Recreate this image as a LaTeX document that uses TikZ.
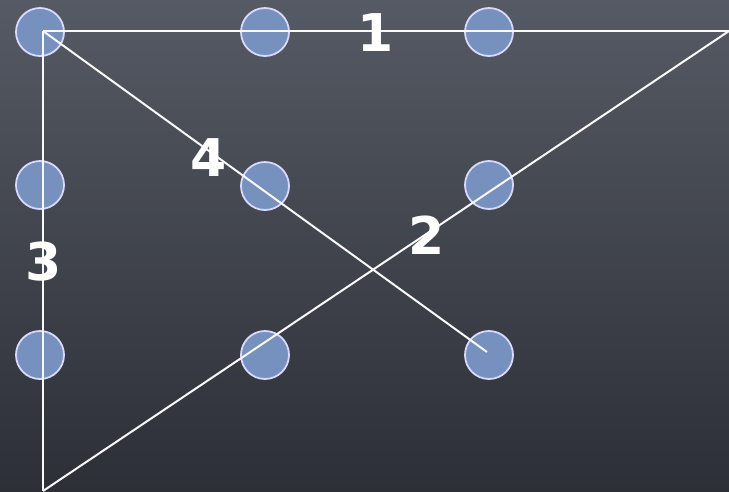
\documentclass[tikz,border=0pt]{standalone}
\usepackage{fontspec}
\newfontfamily\chalk{DejaVu Sans}
\begin{document}
\begin{tikzpicture}[x=1pt,y=-1pt,
  dot/.style={circle,minimum size=48pt,inner sep=0pt,fill={rgb,255:red,118;green,145;blue,190},draw=white!85!blue,line width=1.8pt},
  chalkline/.style={draw=white!95!gray,line width=2pt},
  num/.style={text=white,font=\chalk\bfseries\fontsize{52}{52}\selectfont,inner sep=0pt}]
\definecolor{slatetop}{RGB}{86,90,100}
\definecolor{slatebot}{RGB}{44,47,54}
\shade[top color=slatetop,bottom color=slatebot] (0,0) rectangle (729,491);
\useasboundingbox (0,0) rectangle (729,491);
% dots
\node[dot] (d11) at (40,32) {};
\node[dot] (d12) at (265,32) {};
\node[dot] (d13) at (489,32) {};
\node[dot] (d21) at (40,185) {};
\node[dot] (d22) at (265,186) {};
\node[dot] (d23) at (489,185) {};
\node[dot] (d31) at (40,355) {};
\node[dot] (d32) at (265,355) {};
\node[dot] (d33) at (489,355) {};
% corners
\coordinate (start) at (43,31);
\coordinate (tr) at (729,31);
\coordinate (bl) at (43,491);
\coordinate (end) at (487,352);
% lines
\draw[chalkline] (start) -- (tr);
\draw[chalkline] (tr) -- (bl);
\draw[chalkline] (bl) -- (start);
\draw[chalkline] (start) -- (end);
% labels
\node[num] (n1) at (376,33) {1};
\node[num] (n2) at (427,235) {2};
\node[num] (n3) at (44,262) {3};
\node[num] (n4) at (209,158) {4};
\end{tikzpicture}
\end{document}
